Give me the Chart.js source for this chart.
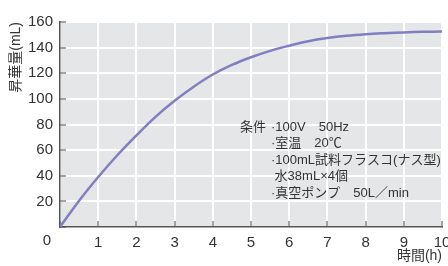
<!DOCTYPE html>
<html>
<head>
<meta charset="utf-8">
<script src="https://cdn.jsdelivr.net/npm/chart.js@4/dist/chart.umd.min.js"></script>
<style>
  html, body { margin: 0; padding: 0; background: #ffffff; overflow: hidden; width: 448px; height: 266px; }
  canvas { display: block; }
</style>
</head>
<body>
<canvas id="c" width="448" height="266"></canvas>
<script>
// ---- data ----
const hours  = [0, 0.5, 1, 1.5, 2, 2.5, 3, 3.5, 4, 4.5, 5, 5.5, 6, 6.5, 7, 7.5, 8, 8.5, 9, 9.5, 10];
const volume = [0, 20.5, 39, 56, 71.5, 86, 98.5, 109.5, 119, 126.5, 132.5, 137.5, 141.5, 145, 147.5, 149.3, 150.5, 151.3, 151.9, 152.3, 152.5];
const xTitle = '時間(h)';
const yTitle = '昇華量(mL)';
const noteHead = '条件';
const noteLines = ['·100V　50Hz', '·室温　20℃', '·100mL試料フラスコ(ナス型)', ' 水38mL×4個', '·真空ポンプ　50L／min'];

const FONT = "'Liberation Sans', 'Noto Sans CJK JP', sans-serif";
const TXT = '#333333';

const bgPlugin = {
  id: 'bg',
  beforeDraw(chart) {
    const a = chart.chartArea, ctx = chart.ctx;
    ctx.save();
    ctx.fillStyle = '#e5e6e7';
    ctx.fillRect(a.left, a.top, a.right - a.left, a.bottom - a.top);
    ctx.restore();
  },
  afterDraw(chart) {
    const a = chart.chartArea, ctx = chart.ctx;
    const xs = chart.scales.x;
    ctx.save();
    // shared origin label
    ctx.fillStyle = TXT;
    ctx.font = "15px " + FONT;
    ctx.textAlign = 'center';
    ctx.textBaseline = 'middle';
    ctx.fillText('0', xs.getPixelForValue(0) - 13, a.bottom + 14);
    // conditions note
    ctx.font = "13px " + FONT;
    ctx.textAlign = 'left';
    ctx.textBaseline = 'middle';
    const nx = a.left + 180, ny = a.top + 105;
    ctx.fillText(noteHead, nx, ny);
    noteLines.forEach((t, i) => ctx.fillText(t, nx + 31, ny + i * 16.5));
    ctx.restore();
  }
};

new Chart(document.getElementById('c'), {
  type: 'line',
  data: {
    datasets: [{
      data: hours.map((h, i) => ({ x: h, y: volume[i] })),
      borderColor: '#7f7fc2',
      borderWidth: 2.5,
      pointRadius: 0,
      tension: 0.4,
      fill: false
    }]
  },
  options: {
    responsive: false,
    animation: false,
    devicePixelRatio: 1,
    layout: { padding: { top: 20, right: 6, left: 0, bottom: 0 } },
    plugins: { legend: { display: false }, tooltip: { enabled: false } },
    scales: {
      x: {
        type: 'linear',
        min: 0, max: 10,
        afterFit(s) { s.height = 39; s.paddingLeft = 0; s.paddingRight = 0; },
        ticks: {
          stepSize: 1,
          color: TXT,
          font: { family: FONT, size: 15 },
          padding: 13,
          maxRotation: 0,
          callback: v => (v === 0 ? '' : String(v))
        },
        grid: { color: '#ffffff', lineWidth: 2, tickLength: -6, tickColor: '#666666', tickWidth: 1.2 },
        border: { color: '#555555', width: 1.5 },
        title: {
          display: true, text: xTitle, align: 'end', color: TXT,
          font: { family: FONT, size: 14 }, padding: { top: 0, bottom: 1 }
        }
      },
      y: {
        min: 0, max: 160,
        afterFit(s) { s.width = 60; },
        ticks: {
          stepSize: 20,
          color: TXT,
          font: { family: FONT, size: 15 },
          padding: 13,
          callback: v => (v === 0 ? '' : String(v))
        },
        grid: { color: '#ffffff', lineWidth: 2, tickLength: -6, tickColor: '#666666', tickWidth: 1.2 },
        border: { color: '#555555', width: 1.5 },
        title: {
          display: true, text: yTitle, align: 'end', color: TXT,
          font: { family: FONT, size: 14 }, padding: { top: 8, bottom: 0 }
        }
      }
    }
  },
  plugins: [bgPlugin]
});
</script>
</body>
</html>
